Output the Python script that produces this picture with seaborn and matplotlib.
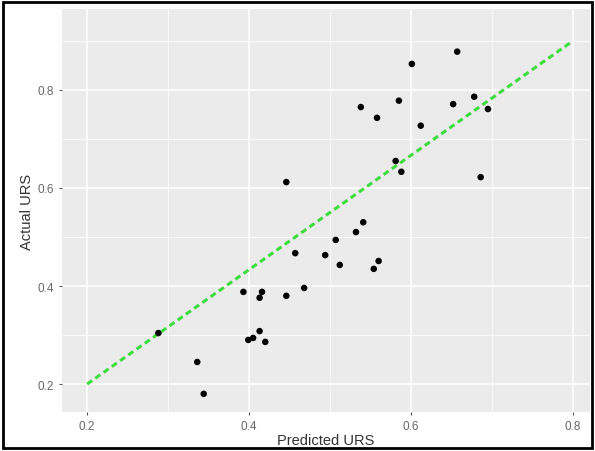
import numpy as np
import pandas as pd
import matplotlib
matplotlib.use("Agg")
import matplotlib.pyplot as plt
import seaborn as sns
from matplotlib.patches import Rectangle

# values
predicted = [0.288, 0.336, 0.344, 0.393, 0.416, 0.413, 0.399, 0.405, 0.413, 0.420,
             0.446, 0.457, 0.468, 0.494, 0.507, 0.512, 0.532, 0.541, 0.554, 0.560,
             0.657, 0.601, 0.538, 0.558, 0.585, 0.652, 0.678, 0.695, 0.612, 0.581,
             0.588, 0.686, 0.446]
actual = [0.304, 0.245, 0.180, 0.388, 0.388, 0.376, 0.290, 0.294, 0.308, 0.286,
          0.380, 0.467, 0.396, 0.463, 0.494, 0.443, 0.510, 0.530, 0.435, 0.451,
          0.878, 0.853, 0.765, 0.743, 0.778, 0.771, 0.786, 0.761, 0.727, 0.655,
          0.633, 0.622, 0.612]
line_x = [0.2, 0.8]
line_y = [0.2, 0.9]

df = pd.DataFrame({"Predicted URS": predicted, "Actual URS": actual})

sns.set_theme(style="darkgrid", rc={
    "axes.facecolor": "#EBEBEB",
    "grid.color": "white",
    "axes.edgecolor": "#EBEBEB",
})
plt.rcParams["font.family"] = ["Liberation Sans", "DejaVu Sans"]

fig = plt.figure(figsize=(5.95, 4.52), dpi=100)
ax = fig.add_axes([62 / 595, 39 / 452, 528 / 595, 403 / 452])

sns.scatterplot(data=df, x="Predicted URS", y="Actual URS", color="black",
                s=22, edgecolor="none", ax=ax, zorder=3)
sns.lineplot(x=line_x, y=line_y, color="#3EDC3E", lw=2.2, ax=ax, zorder=2,
             dashes=False)
ax.lines[-1].set_dashes((2, 1.3))

ax.set_xlim(0.169, 0.821)
ax.set_ylim(0.143, 0.965)
ax.set_xticks([0.2, 0.4, 0.6, 0.8])
ax.set_yticks([0.2, 0.4, 0.6, 0.8])
ax.set_xticklabels(["0.2", "0.4", "0.6", "0.8"])
ax.set_yticklabels(["0.2", "0.4", "0.6", "0.8"])
ax.set_xticks([0.3, 0.5, 0.7], minor=True)
ax.set_yticks([0.3, 0.5, 0.7, 0.9], minor=True)
ax.grid(which="major", color="white", lw=1.1)
ax.grid(which="minor", color="white", lw=0.55)
ax.tick_params(which="major", length=2.5, width=0.8, color="#555555",
               labelsize=8.5, labelcolor="#666666", pad=3, bottom=True, left=True)
ax.tick_params(which="minor", length=0)
for sp in ax.spines.values():
    sp.set_visible(False)

ax.set_xlabel("Predicted URS", fontsize=10.5, color="#333333", labelpad=1)
ax.set_ylabel("Actual URS", fontsize=10.5, color="#333333", labelpad=3)

fig.patches.append(Rectangle((3 / 595, 3 / 452), 589 / 595, 446 / 452,
                             transform=fig.transFigure, fill=False,
                             edgecolor="black", lw=2, zorder=10))

fig.savefig("out.png", dpi=100)
